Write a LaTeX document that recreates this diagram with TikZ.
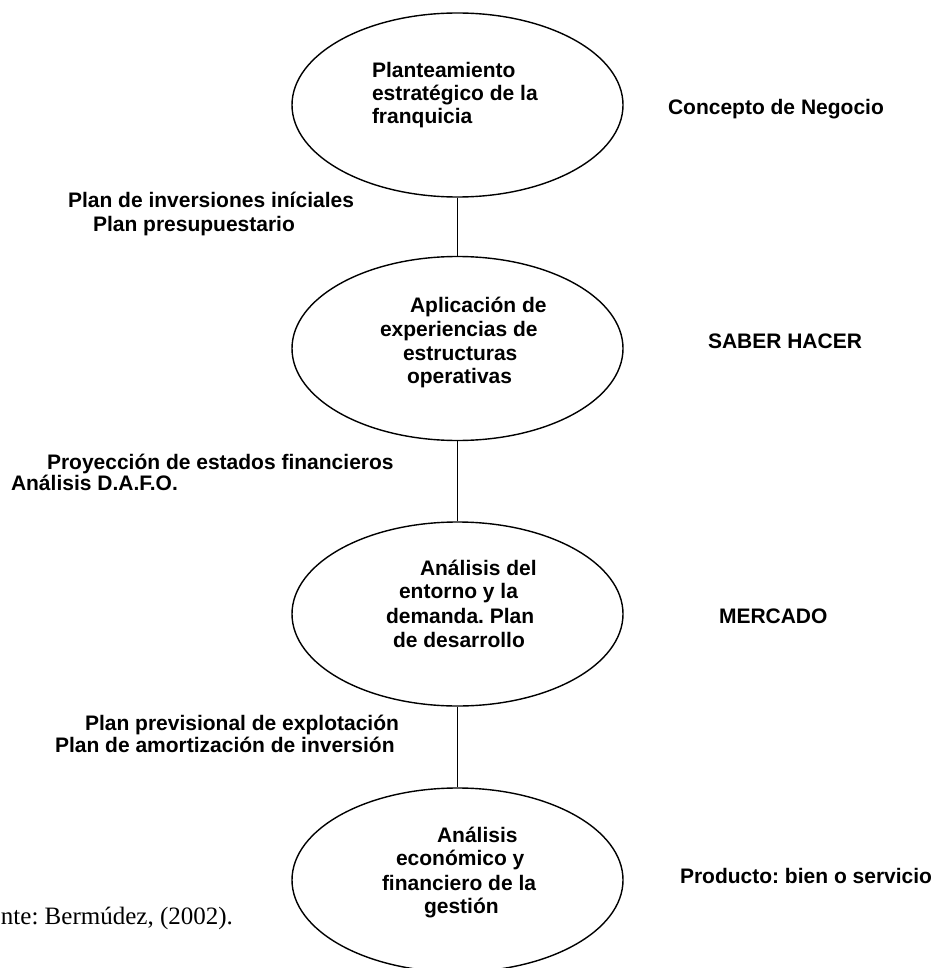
\documentclass[tikz,border=0pt]{standalone}
\usepackage{fontspec}
\setmainfont{Liberation Sans}
\newfontfamily\srcfont{Liberation Serif}
\usetikzlibrary{shapes.geometric}
\frenchspacing
\tikzset{
  oval/.style={draw, ellipse, line width=1.4pt, minimum width=331pt, minimum height=184pt, inner sep=0pt},
  txt/.style={anchor=base west, inner sep=0pt, outer sep=0pt, font=\frenchspacing\bfseries\fontsize{21}{25}\selectfont},
  src/.style={anchor=base west, inner sep=0pt, outer sep=0pt, font=\frenchspacing\srcfont\fontsize{25}{29}\selectfont},
  link/.style={line width=1.4pt},
}
\begin{document}
\begin{tikzpicture}[x=1pt,y=-1pt]
\useasboundingbox (0,0) rectangle (936,968);
% ellipses
\node[oval] (e1) at (457.5,105) {};
\node[oval] (e2) at (457.5,348.5) {};
\node[oval] (e3) at (457.5,614) {};
\node[oval] (e4) at (457.5,880) {};
% connectors
\draw[link] (e1.south) -- (e2.north);
\draw[link] (e2.south) -- (e3.north);
\draw[link] (e3.south) -- (e4.north);
% ellipse texts
\node[txt] (t1a) at (372,78) {Planteamiento};
\node[txt] (t1b) at (372,101) {estratégico de la};
\node[txt] (t1c) at (372,124) {franquicia};
\node[txt] (t2a) at (410,312) {Aplicación de};
\node[txt] (t2b) at (380,336) {experiencias de};
\node[txt] (t2c) at (403,360) {estructuras};
\node[txt] (t2d) at (407,383) {operativas};
\node[txt] (t3a) at (420,575) {Análisis del};
\node[txt] (t3b) at (399,598) {entorno y la};
\node[txt] (t3c) at (386,623) {demanda. Plan};
\node[txt] (t3d) at (393,647) {de desarrollo};
\node[txt] (t4a) at (437,842) {Análisis};
\node[txt] (t4b) at (396,865) {económico y};
\node[txt] (t4c) at (382,890) {financiero de la};
\node[txt] (t4d) at (424,913) {gestión};
% right labels
\node[txt] (r1) at (668,115) {Concepto de Negocio};
\node[txt] (r2) at (708,348) {SABER HACER};
\node[txt] (r3) at (719,623) {MERCADO};
\node[txt] (r4) at (680,883) {Producto: bien o servicio};
% left labels
\node[txt] (l1a) at (68,208) {Plan de inversiones iníciales};
\node[txt] (l1b) at (93,232) {Plan presupuestario};
\node[txt] (l2a) at (47,469) {Proyección de estados financieros};
\node[txt] (l2b) at (11,490) {Análisis D.A.F.O.};
\node[txt] (l3a) at (85,730) {Plan previsional de explotación};
\node[txt] (l3b) at (55,752) {Plan de amortización de inversión};
% source
\node[src] (s) at (1,924) {nte: Bermúdez, (2002).};
\end{tikzpicture}
\end{document}
